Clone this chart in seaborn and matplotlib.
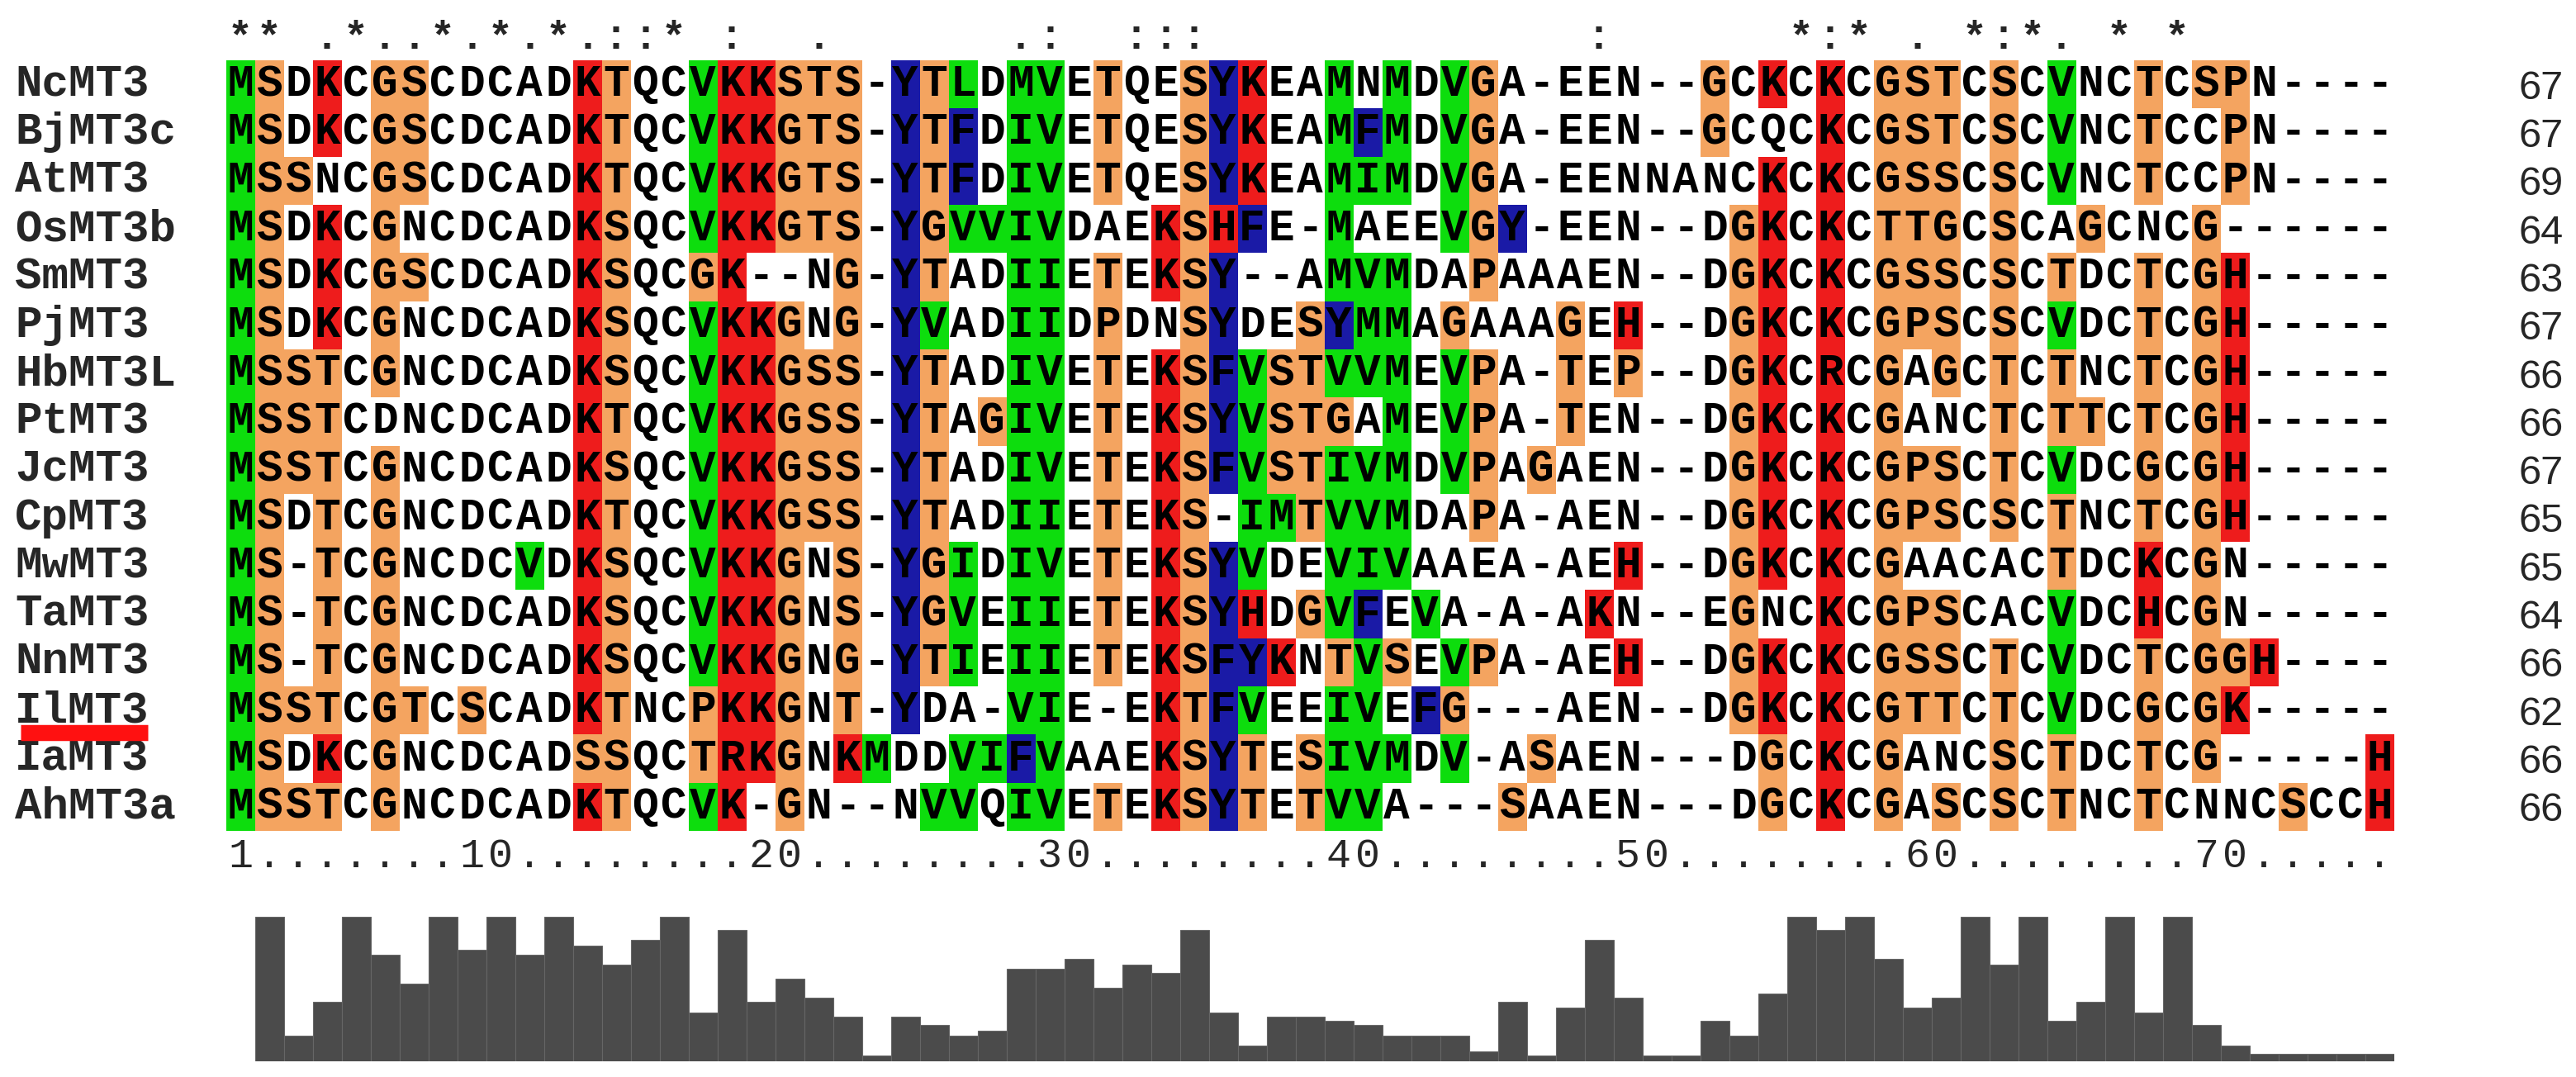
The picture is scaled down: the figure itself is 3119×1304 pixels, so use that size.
import numpy as np
import pandas as pd
import matplotlib
matplotlib.use("Agg")
import matplotlib.pyplot as plt
import matplotlib.transforms as mtransforms
from matplotlib.colors import ListedColormap
import seaborn as sns

# sequence names, aligned sequences and residue counts
names = ["NcMT3", "BjMT3c", "AtMT3", "OsMT3b", "SmMT3", "PjMT3", "HbMT3L", "PtMT3",
         "JcMT3", "CpMT3", "MwMT3", "TaMT3", "NnMT3", "IlMT3", "IaMT3", "AhMT3a"]
seqs = [
    "MSDKCGSCDCADKTQCVKKSTS-YTLDMVETQESYKEAMNMDVGA-EEN--GCKCKCGSTCSCVNCTCSPN----",
    "MSDKCGSCDCADKTQCVKKGTS-YTFDIVETQESYKEAMFMDVGA-EEN--GCQCKCGSTCSCVNCTCCPN----",
    "MSSNCGSCDCADKTQCVKKGTS-YTFDIVETQESYKEAMIMDVGA-EENNANCKCKCGSSCSCVNCTCCPN----",
    "MSDKCGNCDCADKSQCVKKGTS-YGVVIVDAEKSHFE-MAEEVGY-EEN--DGKCKCTTGCSCAGCNCG------",
    "MSDKCGSCDCADKSQCGK--NG-YTADIIETEKSY--AMVMDAPAAAEN--DGKCKCGSSCSCTDCTCGH-----",
    "MSDKCGNCDCADKSQCVKKGNG-YVADIIDPDNSYDESYMMAGAAAGEH--DGKCKCGPSCSCVDCTCGH-----",
    "MSSTCGNCDCADKSQCVKKGSS-YTADIVETEKSFVSTVVMEVPA-TEP--DGKCRCGAGCTCTNCTCGH-----",
    "MSSTCDNCDCADKTQCVKKGSS-YTAGIVETEKSYVSTGAMEVPA-TEN--DGKCKCGANCTCTTCTCGH-----",
    "MSSTCGNCDCADKSQCVKKGSS-YTADIVETEKSFVSTIVMDVPAGAEN--DGKCKCGPSCTCVDCGCGH-----",
    "MSDTCGNCDCADKTQCVKKGSS-YTADIIETEKS-IMTVVMDAPA-AEN--DGKCKCGPSCSCTNCTCGH-----",
    "MS-TCGNCDCVDKSQCVKKGNS-YGIDIVETEKSYVDEVIVAAEA-AEH--DGKCKCGAACACTDCKCGN-----",
    "MS-TCGNCDCADKSQCVKKGNS-YGVEIIETEKSYHDGVFEVA-A-AKN--EGNCKCGPSCACVDCHCGN-----",
    "MS-TCGNCDCADKSQCVKKGNG-YTIEIIETEKSFYKNTVSEVPA-AEH--DGKCKCGSSCTCVDCTCGGH----",
    "MSSTCGTCSCADKTNCPKKGNT-YDA-VIE-EKTFVEEIVEFG---AEN--DGKCKCGTTCTCVDCGCGK-----",
    "MSDKCGNCDCADSSQCTRKGNKMDDVIFVAAEKSYTESIVMDV-ASAEN---DGCKCGANCSCTDCTCG-----H",
    "MSSTCGNCDCADKTQCVK-GN--NVVQIVETEKSYTETVVA---SAAEN---DGCKCGASCSCTNCTCNNCSCCH",
]
lengths = [67, 67, 69, 64, 63, 67, 66, 66, 67, 65, 65, 64, 66, 62, 66, 66]

# conservation marks above the alignment (column -> symbol)
cons_marks = {1: "*", 2: "*", 4: ".", 5: "*", 6: ".", 7: ".", 8: "*", 9: ".", 10: "*",
              11: ".", 12: "*", 13: ".", 14: ":", 15: ":", 16: "*", 18: ":", 21: ".",
              28: ".", 29: ":", 32: ":", 33: ":", 34: ":", 48: ":", 55: "*", 56: ":",
              57: "*", 59: ".", 61: "*", 62: ":", 63: "*", 64: ".", 66: "*", 68: "*"}
ruler = "1.......10........20........30........40........50........60........70....."

# conservation histogram, columns 2..75
cons_cols = list(range(2, 76))
cons_height = [1.0, 0.18, 0.41, 1.0, 0.74, 0.54, 1.0, 0.77, 1.0, 0.74,
               1.0, 0.80, 0.67, 0.84, 1.0, 0.34, 0.91, 0.41, 0.57, 0.44,
               0.31, 0.04, 0.31, 0.25, 0.18, 0.21, 0.64, 0.64, 0.71, 0.51,
               0.67, 0.61, 0.91, 0.34, 0.11, 0.31, 0.31, 0.28, 0.25, 0.18,
               0.18, 0.18, 0.07, 0.41, 0.04, 0.37, 0.84, 0.44, 0.04, 0.04,
               0.28, 0.18, 0.47, 1.0, 0.91, 1.0, 0.71, 0.37, 0.44, 1.0,
               0.67, 1.0, 0.28, 0.41, 1.0, 0.34, 1.0, 0.25, 0.11, 0.05,
               0.05, 0.05, 0.05, 0.05]

# residue groups -> shading class
residue_groups = {"M": 1, "V": 1, "I": 1, "L": 1,
                  "S": 2, "T": 2, "G": 2, "P": 2,
                  "K": 3, "R": 3, "H": 3,
                  "Y": 4, "F": 4, "W": 4}
group_colors = ["#ffffff", "#0ddd0d", "#f4a460", "#ee1c1c", "#1a1aa6"]

ncol = len(seqs[0])
assert all(len(s) == ncol for s in seqs) and len(ruler) == ncol
assert len(cons_height) == len(cons_cols)

codes = pd.DataFrame([[residue_groups.get(c, 0) for c in s] for s in seqs], index=names)
letters = np.array([list(s) for s in seqs])
consensus = [cons_marks.get(i + 1, " ") for i in range(ncol)]

W, H = 3119, 1304
sns.set_style("white")
plt.rcParams["font.family"] = ["Liberation Mono", "DejaVu Sans Mono"]

fig = plt.figure(figsize=(W / 100, H / 100), dpi=100)
ax = fig.add_axes([273.5 / W, 1 - 1006 / H, 2625 / W, 933 / H])

sns.heatmap(codes, ax=ax, cmap=ListedColormap(group_colors), vmin=-0.5, vmax=4.5,
            cbar=False, annot=letters, fmt="", linewidths=0,
            annot_kws=dict(fontsize=38, fontweight="bold", color="black",
                           family="Liberation Mono"),
            xticklabels=False, yticklabels=names)

# names on the left
ax.set_yticks(np.arange(len(names)) + 0.5)
ax.set_yticklabels(names, rotation=0, ha="left", fontsize=39, fontweight="bold",
                   family="Liberation Mono")
ax.tick_params(axis="y", length=0, pad=184)

# ruler under the alignment
ax.set_xticks(np.arange(ncol) + 0.5)
ax.set_xticklabels(list(ruler), rotation=0, fontsize=36, family="Liberation Mono")
ax.tick_params(axis="x", length=0, pad=6)

# conservation symbols on top
top = ax.secondary_xaxis("top")
top.set_xticks(np.arange(ncol) + 0.5)
top.set_xticklabels(consensus, fontsize=36, fontweight="bold", family="Liberation Mono")
top.tick_params(length=0, pad=3)
for sp in top.spines.values():
    sp.set_visible(False)

# residue counts on the right
right = ax.twinx()
right.set_ylim(ax.get_ylim())
right.set_yticks(np.arange(len(names)) + 0.5)
right.set_yticklabels([str(v) for v in lengths], ha="right", fontsize=35,
                      family=["Liberation Sans", "DejaVu Sans"])
right.tick_params(axis="y", length=0, pad=148)
for a in (ax, right):
    for sp in a.spines.values():
        sp.set_visible(False)

# red underline below IlMT3
mark_tr = mtransforms.blended_transform_factory(fig.transFigure, ax.transData)
row_il = names.index("IlMT3")
ax.plot([25 / W, 179 / W], [row_il + 0.96, row_il + 0.96], color="#ff1111", lw=14,
        solid_capstyle="butt", transform=mark_tr, clip_on=False)

# conservation histogram
axh = fig.add_axes([308.5 / W, 1 - 1285 / H, 2590 / W, 175 / H])
hist_df = pd.DataFrame({"col": cons_cols, "height": cons_height})
sns.barplot(data=hist_df, x="col", y="height", ax=axh, color="#4b4b4b", saturation=1,
            width=1.0, edgecolor="#666666", linewidth=0.8)
axh.set_xlim(-0.5, len(cons_cols) - 0.5)
axh.set_ylim(0, 1.0)
axh.axis("off")

fig.savefig("out.png", dpi=100)
